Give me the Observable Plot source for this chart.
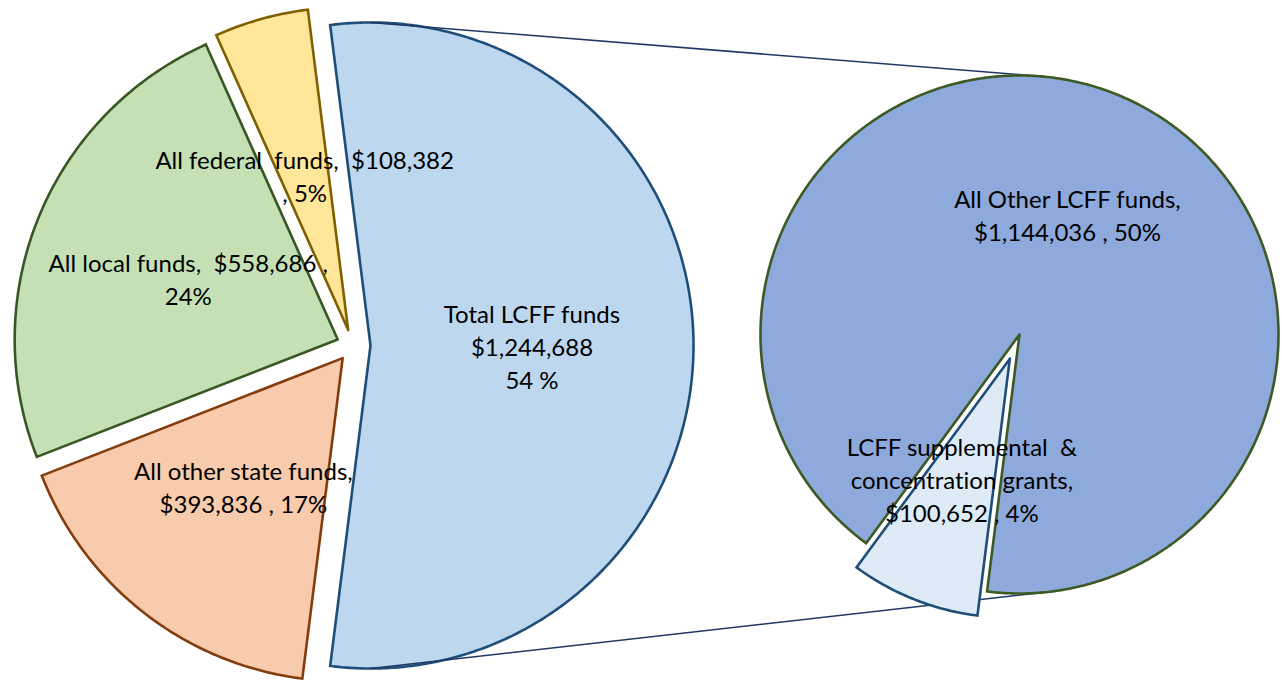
<!DOCTYPE html>
<html><head><meta charset="utf-8">
<script src="https://cdn.jsdelivr.net/npm/d3@7"></script>
<script src="https://cdn.jsdelivr.net/npm/@observablehq/plot@0.6"></script>
<style>html,body{margin:0;padding:0;background:#fff;} svg text{white-space:pre;font-variant-ligatures:none;font-feature-settings:"liga" 0;}</style>
</head><body><div id="chart"></div>
<script>
// ---- data ----
const mainCategories = ["Total LCFF funds", "All other state funds", "All local funds", "All federal funds"];
const mainValues = [1244688, 393836, 558686, 108382];
const mainPercents = ["54 %", "17%", "24%", "5%"];
const mainLabelTexts = [
  "Total LCFF funds\n$1,244,688\n54 %",
  "All other state funds,\n$393,836 , 17%",
  "All local funds,  $558,686 ,\n24%",
  "All federal  funds,  $108,382\n, 5%"
];
const subCategories = ["All Other LCFF funds", "LCFF supplemental & concentration grants"];
const subValues = [1144036, 100652];
const subPercents = ["50%", "4%"];
const subLabelTexts = [
  "All Other LCFF funds,\n$1,144,036 , 50%",
  "LCFF supplemental  &\nconcentration grants,\n$100,652 , 4%"
];

// ---- styles ----
const mainFills = ["#BDD7EE", "#F8CBAD", "#C5E0B4", "#FFE699"];
const mainStrokes = ["#1F4E79", "#843C0C", "#385723", "#7F6000"];
const subFills = ["#8EA9DB", "#DEEBF7"];
const subStrokes = ["#3E5A24", "#1F4E79"];

// ---- layout ----
const W = 1282, H = 681;
const deg = Math.PI / 180;
const mainC = [352, 345], mainR = 323, mainExplode = [18, 16, 16, 16];
const subC = [1019, 334], subR = 259, subExplode = [0, 26];
const mainTotal = d3.sum(mainValues);
const mainStart = 90 - (mainValues[0] / mainTotal) * 180;          // first slice centred pointing right
const subTotal = d3.sum(subValues);
const subSmallMid = 201.75;
const subStart = subSmallMid + (subValues[1] / subTotal) * 180;    // other slice starts after small slice

function buildSlices(prefix, values, labels, fills, strokes, startDeg, c, r, explode) {
  const arcs = d3.pie().sort(null).startAngle(startDeg * deg).endAngle(startDeg * deg + 2 * Math.PI)(values);
  const pts = [], labs = [];
  arcs.forEach((a, i) => {
    const mid = (a.startAngle + a.endAngle) / 2;
    const ox = c[0] + explode[i] * Math.sin(mid), oy = c[1] - explode[i] * Math.cos(mid);
    const key = prefix + i;
    const push = (x, y) => pts.push({key, x, y, fill: fills[i], stroke: strokes[i]});
    push(ox, oy);
    const n = Math.max(2, Math.ceil((a.endAngle - a.startAngle) / deg * 2));
    for (let k = 0; k <= n; k++) {
      const t = a.startAngle + (a.endAngle - a.startAngle) * k / n;
      push(ox + r * Math.sin(t), oy - r * Math.cos(t));
    }
    push(ox, oy);
    labs.push({text: labels[i], x: ox + 0.5 * r * Math.sin(mid), y: oy - 0.5 * r * Math.cos(mid)});
  });
  return {pts, labs, arcs};
}

const main = buildSlices("m", mainValues, mainLabelTexts, mainFills, mainStrokes, mainStart, mainC, mainR, mainExplode);
const sub = buildSlices("s", subValues, subLabelTexts, subFills, subStrokes, subStart, subC, subR, subExplode);

// connector lines from the top/bottom of the LCFF slice to the second pie
const lcffMid = (main.arcs[0].startAngle + main.arcs[0].endAngle) / 2;
const lv = [mainC[0] + mainExplode[0] * Math.sin(lcffMid), mainC[1] - mainExplode[0] * Math.cos(lcffMid)];
const phi = 5.3 * deg;
const connectors = [
  {k: "top", x: lv[0], y: lv[1] - mainR}, {k: "top", x: subC[0] + subR * Math.sin(phi), y: subC[1] - subR * Math.cos(phi)},
  {k: "bot", x: lv[0], y: lv[1] + mainR}, {k: "bot", x: subC[0] + subR * Math.sin(phi), y: subC[1] + subR * Math.cos(phi)}
];

const subOther = sub.pts.filter(d => d.key === "s0");
const subSmall = sub.pts.filter(d => d.key === "s1");

const chart = Plot.plot({
  width: W, height: H, margin: 0,
  x: {domain: [0, W], range: [0, W], axis: null},
  y: {domain: [0, H], range: [0, H], axis: null},
  color: {type: "identity"},
  style: {background: "white"},
  marks: [
    Plot.line(main.pts, {x: "x", y: "y", z: "key", fill: "fill", stroke: "stroke", strokeWidth: 2.6, strokeLinejoin: "miter", strokeMiterlimit: 10}),
    Plot.line(connectors, {x: "x", y: "y", z: "k", stroke: "#1F3864", strokeWidth: 1.6}),
    Plot.line(subOther, {x: "x", y: "y", z: "key", fill: "fill", stroke: "stroke", strokeWidth: 2.6, strokeLinejoin: "miter", strokeMiterlimit: 10}),
    Plot.line(subSmall, {x: "x", y: "y", z: "key", fill: "fill", stroke: "stroke", strokeWidth: 2.6, strokeLinejoin: "miter", strokeMiterlimit: 10}),
    Plot.text(main.labs.concat(sub.labs), {x: "x", y: "y", text: "text", fontSize: 24, fontFamily: "Lato", fill: "#000", lineHeight: 1.375, textAnchor: "middle"})
  ]
});
document.getElementById("chart").appendChild(chart);
</script>
</body></html>
